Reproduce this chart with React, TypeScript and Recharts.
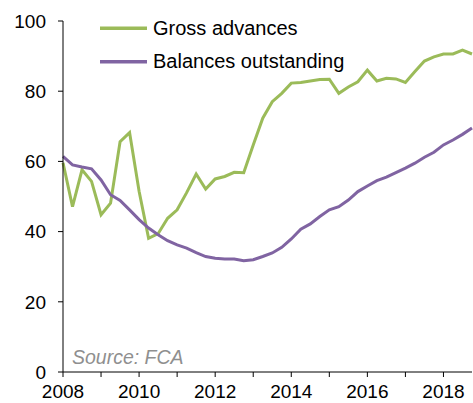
import { Line, LineChart, XAxis, YAxis } from 'recharts'

// Quarterly, 2008 Q1 .. 2018 Q4
const grossAdvances = [
  59.6, 47.1, 57.6, 54.3, 44.8, 48.1, 65.6, 68.2, 51.5, 38.1,
  39.4, 43.8, 46.2, 51.1, 56.4, 52.1, 55.0, 55.7, 56.9, 56.8,
  64.7, 72.3, 77.0, 79.4, 82.3, 82.5, 82.9, 83.3, 83.4, 79.4,
  81.2, 82.7, 86.0, 82.9, 83.7, 83.5, 82.5, 85.6, 88.6, 89.8,
  90.6, 90.6, 91.7, 90.6,
]

const balancesOutstanding = [
  61.4, 59.0, 58.4, 57.9, 54.7, 50.5, 48.9, 46.2, 43.4, 41.0,
  39.1, 37.4, 36.2, 35.3, 34.0, 32.9, 32.4, 32.2, 32.2, 31.7,
  32.0, 32.9, 33.9, 35.5, 37.9, 40.7, 42.2, 44.3, 46.2, 47.1,
  49.0, 51.4, 53.0, 54.5, 55.5, 56.8, 58.1, 59.5, 61.2, 62.6,
  64.7, 66.1, 67.7, 69.5,
]

const yearTicks = [2008, 2009, 2010, 2011, 2012, 2013, 2014, 2015, 2016, 2017, 2018]
const labelledYears = [2008, 2010, 2012, 2014, 2016, 2018]
const yTicks = [0, 20, 40, 60, 80, 100]

const GREEN = '#9bbb59'
const PURPLE = '#8064a2'
const FONT = '"Liberation Sans", Arial, sans-serif'

const data = grossAdvances.map((g, i) => ({
  t: 2008 + i / 4,
  gross: g,
  balances: balancesOutstanding[i],
}))

const legendItems = [
  { label: 'Gross advances', color: GREEN },
  { label: 'Balances outstanding', color: PURPLE },
]

export default function App() {
  return (
    <div style={{ position: 'absolute', left: 0, top: 0, width: 473, height: 403, background: '#fff' }}>
      <LineChart width={473} height={403} data={data} margin={{ top: 21, right: 1, left: 0, bottom: 0 }}>
        <XAxis
          dataKey="t"
          type="number"
          domain={[2008, 2018.75]}
          ticks={yearTicks}
          tickFormatter={(v: number) => (labelledYears.includes(v) ? String(v) : '')}
          height={31}
          tickSize={5}
          tickMargin={8}
          axisLine={{ stroke: '#000' }}
          tickLine={{ stroke: '#000' }}
          tick={{ fontSize: 19, fill: '#000', fontFamily: FONT }}
          interval={0}
        />
        <YAxis
          domain={[0, 100]}
          ticks={yTicks}
          width={63}
          tickSize={5}
          tickMargin={12}
          axisLine={{ stroke: '#000' }}
          tickLine={{ stroke: '#000' }}
          tick={{ fontSize: 19, fill: '#000', fontFamily: FONT }}
          interval={0}
        />
        <Line type="linear" dataKey="gross" stroke={GREEN} strokeWidth={3} dot={false} isAnimationActive={false} />
        <Line type="linear" dataKey="balances" stroke={PURPLE} strokeWidth={3} dot={false} isAnimationActive={false} />
      </LineChart>
      <svg width={473} height={403} style={{ position: 'absolute', left: 0, top: 0, pointerEvents: 'none' }}>
        {legendItems.map((item, idx) => (
          <g key={item.label}>
            <line x1={100} x2={147} y1={28.3 + idx * 33.4} y2={28.3 + idx * 33.4} stroke={item.color} strokeWidth={3.5} />
            <text x={153} y={35 + idx * 33.4} fontSize={20} fontFamily={FONT} fill="#000">
              {item.label}
            </text>
          </g>
        ))}
        <text x={72} y={363.5} fontSize={19.5} fontStyle="italic" fontFamily={FONT} fill="#8f8f8f">
          Source: FCA
        </text>
      </svg>
    </div>
  )
}
